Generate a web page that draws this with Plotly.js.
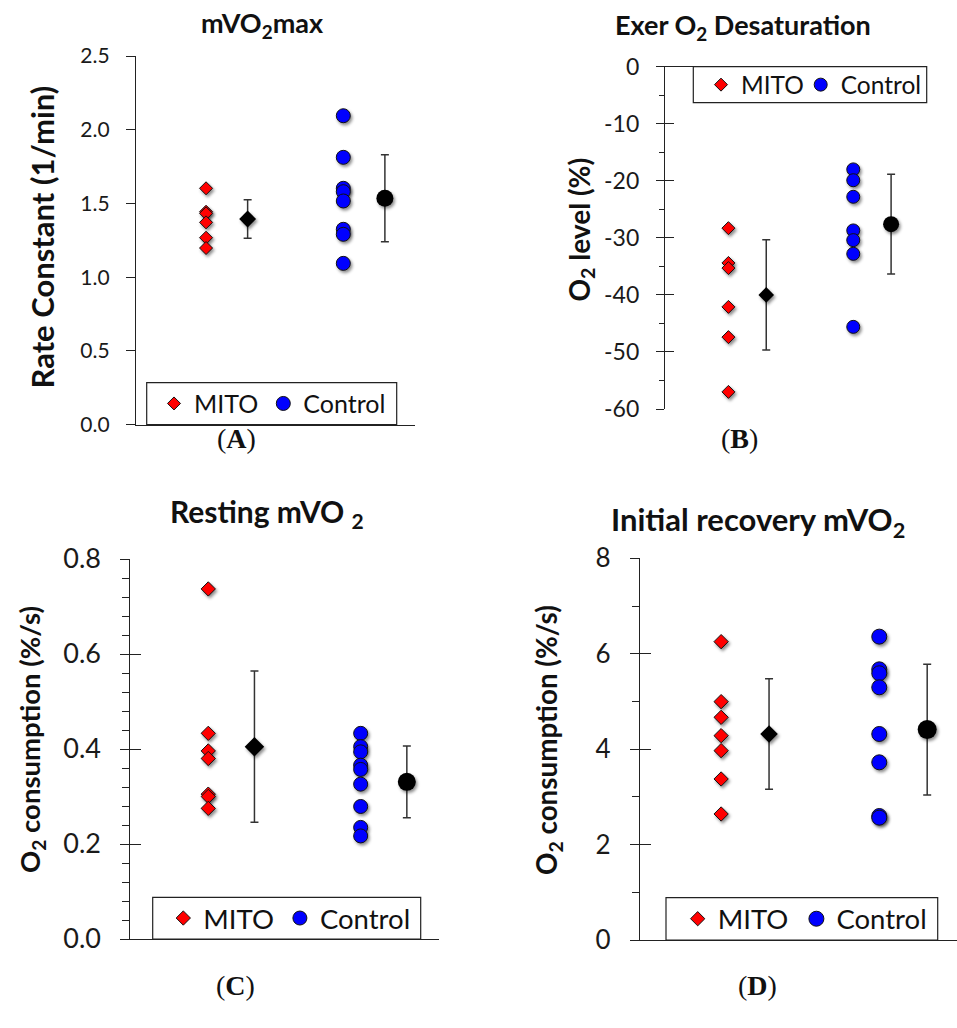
<!DOCTYPE html>
<html><head><meta charset="utf-8">
<script src="https://cdn.plot.ly/plotly-3.0.1.min.js"></script>
<style>
html,body{margin:0;padding:0;background:#fff;}
#chart{width:957px;height:1028px;}
#chart .cartesianlayer .scatterlayer .points path{filter:url(#mkshadow);}
</style>
</head><body>
<svg width="2" height="2" style="position:absolute;left:0;top:0;" aria-hidden="true"><defs><filter id="mkshadow" x="-60%" y="-60%" width="220%" height="220%" color-interpolation-filters="sRGB"><feDropShadow dx="1.6" dy="2.2" stdDeviation="1.4" flood-color="#000" flood-opacity="0.45"/></filter></defs></svg>
<div id="chart"></div>
<script>
// ---- data ----
const groups = ['MITO', 'Control'];

const vo2maxMito    = [1.603, 1.444, 1.433, 1.372, 1.268, 1.198];
const vo2maxControl = [2.095, 1.813, 1.603, 1.580, 1.517, 1.325, 1.291, 1.094];
const vo2maxMean    = [1.395, 1.535];
const vo2maxSD      = [0.13, 0.295];

const desatMito    = [-28.3, -34.4, -35.3, -42.1, -47.4, -57.0];
const desatControl = [-18.0, -19.9, -22.8, -28.7, -30.4, -32.8, -45.6];
const desatMean    = [-40.0, -27.6];
const desatSD      = [9.65, 8.75];

const restMito    = [0.737, 0.433, 0.396, 0.380, 0.305, 0.300, 0.275];
const restControl = [0.433, 0.405, 0.394, 0.366, 0.357, 0.326, 0.279, 0.235, 0.217];
const restMean    = [0.405, 0.331];
const restSD      = [0.159, 0.0755];

const recovMito    = [6.253, 4.996, 4.667, 4.283, 3.969, 3.375, 2.641];
const recovControl = [6.358, 5.673, 5.590, 5.296, 4.318, 3.724, 2.599, 2.564];
const recovMean    = [4.318, 4.41];
const recovSD      = [1.16, 1.37];

const ticksA = [0, 0.5, 1, 1.5, 2, 2.5];
const labelsA = ['0.0', '0.5', '1.0', '1.5', '2.0', '2.5'];
const ticksB = [0, -10, -20, -30, -40, -50, -60];
const labelsB = ['0', '-10', '-20', '-30', '-40', '-50', '-60'];
const ticksC = [0, 0.2, 0.4, 0.6, 0.8];
const labelsC = ['0.0', '0.2', '0.4', '0.6', '0.8'];
const ticksD = [0, 2, 4, 6, 8];
const labelsD = ['0', '2', '4', '6', '8'];

const titles = ['mVO<sub>2</sub>max', 'Exer O<sub>2</sub> Desaturation', 'Resting mVO <sub>2</sub>', 'Initial recovery mVO<sub>2</sub>'];
const yTitles = ['Rate Constant (1/min)', 'O<sub>2</sub> level (%)', 'O<sub>2</sub> consumption (%/s)', 'O<sub>2</sub> consumption (%/s)'];
const panelLabels = ['(<b>A</b>)', '(<b>B</b>)', '(<b>C</b>)', '(<b>D</b>)'];

// ---- layout helpers ----
const W = 957, H = 1028;
const px = v => v / W;
const py = v => 1 - v / H;
const FONT = 'Lato, "Open Sans", sans-serif';
const AX = '#222222';
const XPOS = {pts1: 1, mean1: 2, pts2: 4.3, mean2: 5.3};

const panels = [
  {xa: 'x', ya: 'y', lg: 'legend', mito: vo2maxMito, ctrl: vo2maxControl, mean: vo2maxMean, sd: vo2maxSD,
   ds: 10, cs: 14, mds: 13, mcs: 17, lw: 57},
  {xa: 'x2', ya: 'y2', lg: 'legend2', mito: desatMito, ctrl: desatControl, mean: desatMean, sd: desatSD,
   ds: 10, cs: 13, mds: 12, mcs: 16, lw: 47},
  {xa: 'x3', ya: 'y3', lg: 'legend3', mito: restMito, ctrl: restControl, mean: restMean, sd: restSD,
   ds: 11, cs: 14, mds: 15, mcs: 18, lw: 61},
  {xa: 'x4', ya: 'y4', lg: 'legend4', mito: recovMito, ctrl: recovControl, mean: recovMean, sd: recovSD,
   ds: 11, cs: 15, mds: 13.5, mcs: 19, lw: 62}
];

const traces = [];
panels.forEach(p => {
  traces.push({
    type: 'scatter', mode: 'markers', name: groups[0], legend: p.lg, legendwidth: p.lw,
    x: p.mito.map(() => XPOS.pts1), y: p.mito, xaxis: p.xa, yaxis: p.ya, cliponaxis: false,
    marker: {symbol: 'diamond', size: p.ds, color: '#ff0000', line: {color: '#111', width: 1}},
    hoverinfo: 'y'
  });
  traces.push({
    type: 'scatter', mode: 'markers', name: groups[1], legend: p.lg,
    x: p.ctrl.map(() => XPOS.pts2), y: p.ctrl, xaxis: p.xa, yaxis: p.ya, cliponaxis: false,
    marker: {symbol: 'circle', size: p.cs, color: '#0000ff', line: {color: '#111', width: 1}},
    hoverinfo: 'y'
  });
  traces.push({
    type: 'scatter', mode: 'markers', name: groups[0] + ' mean', showlegend: false,
    x: [XPOS.mean1], y: [p.mean[0]], xaxis: p.xa, yaxis: p.ya, cliponaxis: false,
    error_y: {type: 'data', array: [p.sd[0]], color: '#333', thickness: 1.5, width: 4},
    marker: {symbol: 'diamond', size: p.mds, color: '#000'}
  });
  traces.push({
    type: 'scatter', mode: 'markers', name: groups[1] + ' mean', showlegend: false,
    x: [XPOS.mean2], y: [p.mean[1]], xaxis: p.xa, yaxis: p.ya, cliponaxis: false,
    error_y: {type: 'data', array: [p.sd[1]], color: '#333', thickness: 1.5, width: 4},
    marker: {symbol: 'circle', size: p.mcs, color: '#000'}
  });
});
// helper traces for the overlay axes carrying inside ticks
[['x2', 'y5'], ['x3', 'y6'], ['x4', 'y7']].forEach(a => traces.push({
  type: 'scatter', mode: 'markers', x: [], y: [], xaxis: a[0], yaxis: a[1], showlegend: false, hoverinfo: 'skip'
}));

function xAxis(domain, range, anchor, extra) {
  return Object.assign({domain: domain, range: range, anchor: anchor, showline: true, linecolor: AX, linewidth: 1.3,
    ticks: '', showticklabels: false, showgrid: false, zeroline: false, fixedrange: true}, extra || {});
}
function yAxis(domain, range, anchor, tv, tt, fs, extra) {
  return Object.assign({domain: domain, range: range, anchor: anchor, showline: true, linecolor: AX, linewidth: 1.3,
    ticks: 'outside', ticklen: 9, tickwidth: 1.3, tickcolor: AX, tickmode: 'array', tickvals: tv, ticktext: tt,
    tickfont: {family: FONT, size: fs, color: '#1a1a1a'}, showgrid: false, zeroline: false, fixedrange: true,
    ticklabelstandoff: 14}, extra || {});
}
function overlay(base, anchor, range, tv, len) {
  return {overlaying: base, anchor: anchor, range: range, tickmode: 'array', tickvals: tv, ticks: 'inside',
    ticklen: len, tickwidth: 1.3, tickcolor: AX, showticklabels: false, showline: false, showgrid: false,
    zeroline: false, fixedrange: true};
}
// legend frames (pixel boxes) drawn as shapes; the legends sit inside them
const legendBoxes = [[146.7, 382.7, 396.7, 424.7], [693.3, 66.7, 926.7, 102.7], [152.7, 897.3, 420.7, 939], [666, 897.7, 937.7, 940]];
const legendIndent = [7.3, 7.7, 10.6, 11.7];
const legendFont = [25, 24.5, 27.5, 27.5];
function legendAt(i) {
  const b = legendBoxes[i];
  return {x: px(b[0]), y: py((b[1] + b[3]) / 2), xanchor: 'left', yanchor: 'middle', orientation: 'h',
    borderwidth: 0, bgcolor: 'rgba(0,0,0,0)', indentation: legendIndent[i],
    font: {family: FONT, size: legendFont[i], color: '#111'}, itemclick: false, itemdoubleclick: false};
}
const shapes = legendBoxes.map(b => ({type: 'rect', xref: 'paper', yref: 'paper', layer: 'above',
  x0: px(b[0]), x1: px(b[2]), y0: py(b[3]), y1: py(b[1]), line: {color: '#222', width: 1.2}, fillcolor: '#fff'}));

const annotations = [];
const titlePos = [[262.5, 24, 27], [743, 26.7, 27], [267, 513, 30], [757.5, 521.7, 31]];
const yTitlePos = [[41, 237.5, 31], [580.5, 230, 28], [31, 740, 27.5], [548, 740, 27.8]];
const labelPos = [[236, 438], [739, 438], [235, 985], [757, 985]];
for (let i = 0; i < 4; i++) {
  annotations.push({xref: 'paper', yref: 'paper', x: px(titlePos[i][0]), y: py(titlePos[i][1]), xanchor: 'center', yanchor: 'middle',
    text: '<b>' + titles[i] + '</b>', showarrow: false, font: {family: FONT, size: titlePos[i][2], color: '#111'}});
  annotations.push({xref: 'paper', yref: 'paper', x: px(yTitlePos[i][0]), y: py(yTitlePos[i][1]), xanchor: 'center', yanchor: 'middle',
    text: '<b>' + yTitles[i] + '</b>', textangle: -90, showarrow: false, font: {family: FONT, size: yTitlePos[i][2], color: '#111'}});
  annotations.push({xref: 'paper', yref: 'paper', x: px(labelPos[i][0]), y: py(labelPos[i][1]), xanchor: 'center', yanchor: 'middle',
    text: panelLabels[i], showarrow: false, font: {family: '"Liberation Serif", serif', size: 28, color: '#111'}});
}

const layout = {
  width: W, height: H, autosize: false, margin: {l: 0, r: 0, t: 0, b: 0},
  paper_bgcolor: '#fff', plot_bgcolor: 'rgba(0,0,0,0)', showlegend: true, hovermode: 'closest',
  xaxis: xAxis([px(136), px(415)], [-0.684, 6.024], 'y'),
  yaxis: yAxis([py(424.7), py(56)], [0, 2.5], 'x', ticksA, labelsA, 21, {ticklabelstandoff: 12}),
  xaxis2: xAxis([px(665), px(927)], [-0.676, 6.249], 'y2', {side: 'top'}),
  yaxis2: yAxis([py(409), py(66.7)], [-60, 0], 'x2', ticksB, labelsB, 23,
    {ticklen: 8, ticklabelstandoff: 12, minor: {tickmode: 'linear', dtick: 5, tick0: 0, ticks: 'outside', ticklen: 5, tickwidth: 1.2, tickcolor: AX}}),
  yaxis5: overlay('y2', 'x2', [-60, 0], ticksB, 9),
  xaxis3: xAxis([px(130), px(439.3)], [-0.695, 6.003], 'y3'),
  yaxis3: yAxis([py(939), py(559)], [0, 0.8], 'x3', ticksC, labelsC, 27,
    {ticklen: 8.5, minor: {tickmode: 'linear', dtick: 0.04, tick0: 0, ticks: 'outside', ticklen: 6.5, tickwidth: 1.2, tickcolor: AX}}),
  yaxis6: overlay('y3', 'x3', [0, 0.8], ticksC, 11),
  xaxis4: xAxis([px(640), 1], [-0.693, 5.922], 'y4'),
  yaxis4: yAxis([py(940), py(558.3)], [0, 8], 'x4', ticksD, labelsD, 26,
    {ticklen: 9, minor: {tickmode: 'linear', dtick: 1, tick0: 0, ticks: 'outside', ticklen: 7, tickwidth: 1.2, tickcolor: AX}}),
  yaxis7: overlay('y4', 'x4', [0, 8], ticksD, 10.5),
  legend: legendAt(0),
  legend2: legendAt(1),
  legend3: legendAt(2),
  legend4: legendAt(3),
  shapes: shapes,
  annotations: annotations
};

Plotly.newPlot('chart', traces, layout, {displayModeBar: false}).then(gd => {
  gd.querySelectorAll('.cartesianlayer .scatterlayer .trace .points path').forEach(p => p.setAttribute('filter', 'url(#mkshadow)'));
});
</script>
</body></html>
